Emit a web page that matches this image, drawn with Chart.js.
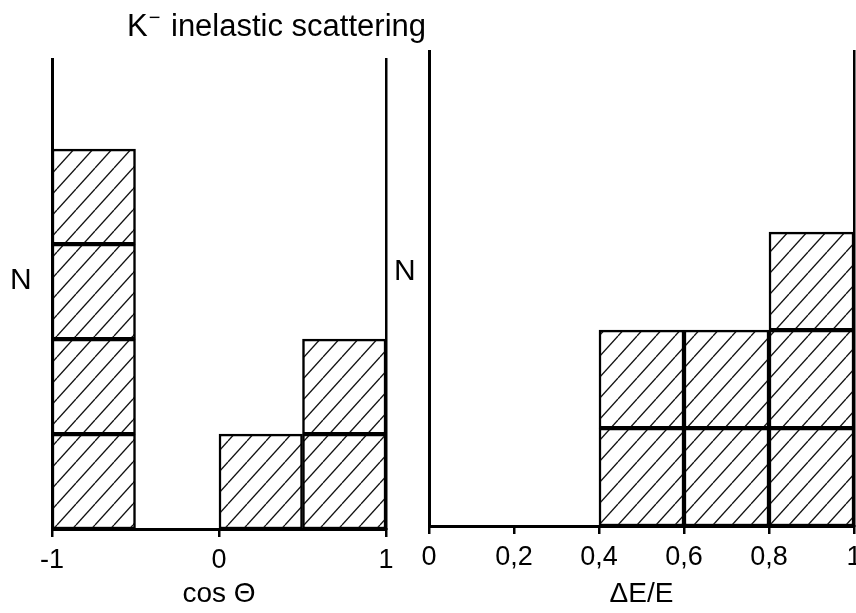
<!DOCTYPE html>
<html>
<head>
<meta charset="utf-8">
<script src="https://cdn.jsdelivr.net/npm/chart.js@4/dist/chart.umd.min.js"></script>
<style>
  html, body { margin: 0; padding: 0; background: #fff; }
  body { width: 856px; height: 613px; overflow: hidden; position: relative; font-family: 'Liberation Sans', Arial, sans-serif; color: #000; }
  .wrap { position: absolute; top: 0; }
  #title { position: absolute; left: 127px; top: 6px; font-size: 31px; white-space: nowrap; line-height: 40px; }
  #title sup { font-size: 20px; position: relative; top: -12px; vertical-align: baseline; margin-left: 1px; margin-right: 2px; }
  .nlab { position: absolute; font-size: 30px; line-height: 30px; }
</style>
</head>
<body>
<div class="wrap" style="left:0px;width:420px;height:613px;"><canvas id="c1" width="420" height="613"></canvas></div>
<div class="wrap" style="left:390px;width:500px;height:613px;"><canvas id="c2" width="500" height="613"></canvas></div>
<div id="title">K<sup>−</sup> inelastic scattering</div>
<div class="nlab" style="left:10px;top:264px;">N</div>
<div class="nlab" style="left:394px;top:255px;">N</div>
<script>
// ---- data ----
const cosBinEdges = [-1, -0.5, 0, 0.5, 1];
const cosCounts = [4, 0, 1, 2];
const cosTickValues = [-1, 0, 1];
const cosTickLabels = ['-1', '0', '1'];

const deBinEdges = [0, 0.2, 0.4, 0.6, 0.8, 1.0];
const deCounts = [0, 0, 2, 2, 3];
const deTickValues = [0, 0.2, 0.4, 0.6, 0.8, 1.0];
const deTickLabels = ['0', '0,2', '0,4', '0,6', '0,8', '1'];

const cosAxisTitle = 'cos \u0398';
const deAxisTitle = '\u0394E/E';

// ---- styling ----
const tickFont = { family: "'Liberation Sans', Arial, sans-serif", size: 27 };
const titleFont = { family: "'Liberation Sans', Arial, sans-serif", size: 28 };

function makeHatch() {
  const W = 19, H = 21;
  const c = document.createElement('canvas');
  c.width = W; c.height = H;
  const g = c.getContext('2d');
  g.fillStyle = '#fff';
  g.fillRect(0, 0, W, H);
  g.strokeStyle = '#111';
  g.lineWidth = 1.3;
  for (const dx of [-W, 0, W]) {
    g.beginPath();
    g.moveTo(dx, H);
    g.lineTo(dx + W, 0);
    g.stroke();
  }
  return c;
}

function buildDatasets(edges, counts, pattern) {
  const maxC = Math.max(...counts);
  const ds = [];
  for (let k = 0; k < maxC; k++) {
    const data = [];
    for (let i = 0; i < counts.length; i++) {
      if (counts[i] > k) data.push({ x: (edges[i] + edges[i + 1]) / 2, y: [k, k + 1] });
    }
    ds.push({
      data,
      backgroundColor: pattern,
      borderColor: '#000',
      borderWidth: 2.5,
      borderSkipped: false,
      grouped: false,
      barPercentage: 1,
      categoryPercentage: 1
    });
  }
  return ds;
}

function makeChart(id, edges, counts, tickValues, tickLabels, axisTitle, yMax, pad, xAxisHeight) {
  const ctx = document.getElementById(id).getContext('2d');
  const pattern = ctx.createPattern(makeHatch(), 'repeat');
  return new Chart(ctx, {
    type: 'bar',
    data: { datasets: buildDatasets(edges, counts, pattern) },
    options: {
      responsive: false,
      animation: false,
      events: [],
      layout: { padding: pad },
      plugins: { legend: { display: false }, tooltip: { enabled: false }, title: { display: false } },
      scales: {
        x: {
          type: 'linear',
          min: edges[0],
          max: edges[edges.length - 1],
          offset: false,
          afterBuildTicks: (s) => { s.ticks = tickValues.map(v => ({ value: v })); },
          afterFit: (s) => { s.height = xAxisHeight; s.paddingLeft = 0; s.paddingRight = 0; },
          ticks: {
            autoSkip: false,
            maxRotation: 0,
            minRotation: 0,
            color: '#000',
            font: tickFont,
            padding: 7,
            callback: (v, i) => tickLabels[i]
          },
          grid: { display: true, offset: false, drawOnChartArea: false, drawTicks: true, tickLength: 8, color: '#000', lineWidth: 2.5 },
          border: { display: true, color: '#000', width: 3 },
          title: { display: true, text: axisTitle, color: '#000', font: titleFont, padding: { top: 0, bottom: 2 } }
        },
        y: {
          type: 'linear',
          position: 'left',
          min: 0,
          max: yMax,
          ticks: { display: false },
          grid: { display: false },
          border: { display: true, color: '#000', width: 3 },
          afterFit: (s) => { s.width = 0; }
        },
        y2: {
          type: 'linear',
          position: 'right',
          min: 0,
          max: yMax,
          ticks: { display: false },
          grid: { display: false },
          border: { display: true, color: '#000', width: 2.5 },
          afterFit: (s) => { s.width = 0; }
        }
      }
    }
  });
}

makeChart('c1', cosBinEdges, cosCounts, cosTickValues, cosTickLabels, cosAxisTitle, 4.95,
  { left: 52, right: 34, top: 59, bottom: 0 }, 84);
makeChart('c2', deBinEdges, deCounts, deTickValues, deTickLabels, deAxisTitle, 4.85,
  { left: 39, right: 36, top: 51, bottom: 0 }, 87);
</script>
</body>
</html>
